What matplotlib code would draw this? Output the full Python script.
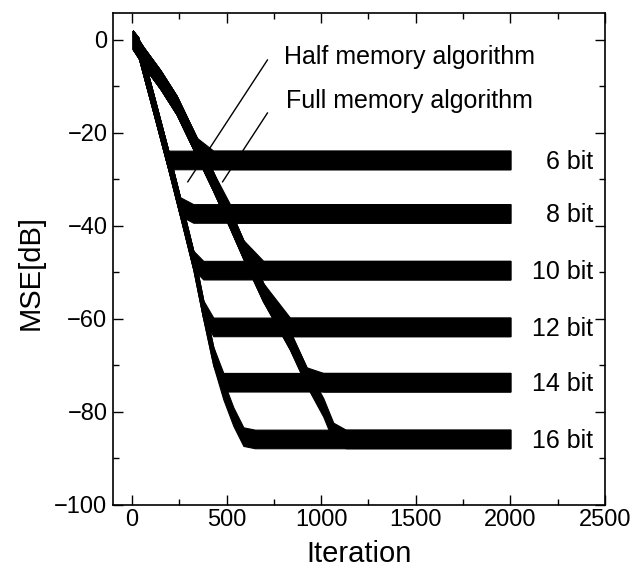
import numpy as np
import matplotlib
matplotlib.use("Agg")
import matplotlib.pyplot as plt
from matplotlib.ticker import MultipleLocator

# ---- data ----
bit_labels = ["6 bit", "8 bit", "10 bit", "12 bit", "14 bit", "16 bit"]
floor_db = [-25.8, -37.3, -49.5, -61.7, -73.6, -85.8]

# Full memory algorithm (fast convergence) mean curve knots
full_iter = [5, 33, 113, 192, 254, 324, 377, 430, 483, 536, 589, 650, 2000]
full_db = [0.0, -1.4, -13.6, -25.8, -35.8, -47.3, -58.0, -68.0, -75.3, -81.0, -85.3, -90.0, -200.0]

# Half memory algorithm (slow convergence) mean curve knots
half_iter = [5, 60, 150, 236, 342, 430, 518, 588, 694, 835, 923, 1011, 1064, 1130, 2000]
half_db = [0.0, -3.5, -8.5, -14.0, -23.0, -30.5, -38.5, -45.0, -54.3, -64.6, -72.4, -79.0, -84.3, -90.0, -200.0]

# noise band half width [dB]
band_hw = 2.0

# annotation pointer lines
half_line_x = [716, 295]
half_line_y = [-4.3, -30.5]
full_line_x = [716, 479]
full_line_y = [-15.7, -30.5]

# ---- figure ----
plt.rcParams["font.family"] = ["Liberation Sans", "DejaVu Sans"]
fig = plt.figure(figsize=(6.4, 5.76), dpi=100)
ax = fig.add_axes([0.1766, 0.1233, 0.7687, 0.8541])

ax.plot(half_line_x, half_line_y, color="black", lw=1.0, zorder=1)
ax.plot(full_line_x, full_line_y, color="black", lw=1.0, zorder=1)

for fl in floor_db:
    for kx, ky in ((full_iter, full_db), (half_iter, half_db)):
        x = np.array(kx, dtype=float)
        y = np.maximum(np.array(ky, dtype=float), fl)
        ax.fill_between(x, y - band_hw, y + band_hw, color="black", lw=0.8,
                        edgecolor="black", zorder=2)

for lab, fl in zip(bit_labels, floor_db):
    ax.text(2437, fl - 1.95, lab, ha="right", va="baseline", fontsize=18)

ax.text(805, -3.7, "Half memory algorithm", ha="left", va="center", fontsize=18)
ax.text(816, -13.1, "Full memory algorithm", ha="left", va="center", fontsize=18)

ax.set_xlim(-100, 2500)
ax.set_ylim(-100, 5.8)
ax.xaxis.set_major_locator(MultipleLocator(500))
ax.xaxis.set_minor_locator(MultipleLocator(250))
ax.yaxis.set_major_locator(MultipleLocator(20))
ax.yaxis.set_minor_locator(MultipleLocator(10))
ax.tick_params(which="both", direction="in", top=True, right=True, width=1.0)
ax.tick_params(which="major", length=7.5, labelsize=17)
ax.tick_params(axis="x", which="major", pad=3)
ax.tick_params(axis="y", which="major", pad=4)
ax.tick_params(which="minor", length=4.5)
for s in ax.spines.values():
    s.set_linewidth(1.2)

ax.set_xlabel("Iteration", fontsize=21)
ax.set_ylabel("MSE[dB]", fontsize=21)
ax.xaxis.set_label_coords(0.5, -0.072)
ax.yaxis.set_label_coords(-0.14, 0.473)

fig.savefig("out.png", dpi=100)
